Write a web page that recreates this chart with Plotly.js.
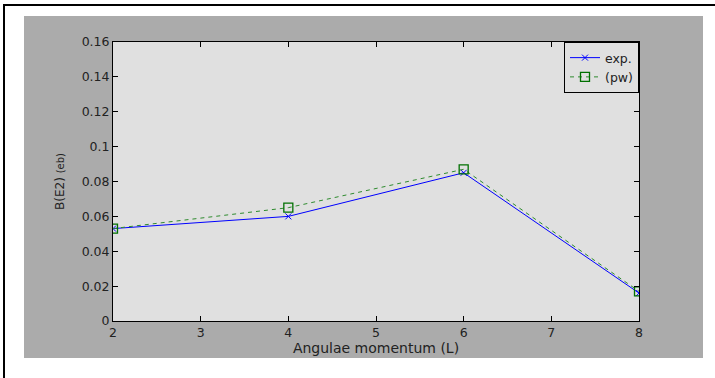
<!DOCTYPE html>
<html>
<head>
<meta charset="utf-8">
<script src="https://cdn.plot.ly/plotly-3.0.1.min.js"></script>
<style>html,body{margin:0;padding:0;background:#fff;}#chart{width:715px;height:378px;}</style>
</head>
<body>
<div id="chart"></div>
<script>
const angularMomentum = [2, 4, 6, 8];
const expValues = [0.053, 0.060, 0.085, 0.016];
const pwValues = [0.053, 0.065, 0.087, 0.017];
const xTicks = [2, 3, 4, 5, 6, 7, 8];
const yTickVals = [0, 0.02, 0.04, 0.06, 0.08, 0.1, 0.12, 0.14, 0.16];
const yTickText = ['0', '0.02', '0.04', '0.06', '0.08', '0.1', '0.12', '0.14', '0.16'];
const seriesNames = ['exp.', '(pw)'];

const W = 715, H = 378;
const L = 113, R = 639, T = 42, B = 321;
const pw = R - L, ph = B - T;
const px = v => (v - L) / pw;
const py = v => (B - v) / ph;
const FONT = 'DejaVu Sans, Liberation Sans, Arial, sans-serif';

const traces = [
  {
    x: angularMomentum, y: expValues, name: seriesNames[0],
    mode: 'lines+markers', type: 'scatter',
    line: {color: '#0000ff', width: 1},
    marker: {symbol: 'x-thin-open', size: 6, color: '#0000ff', line: {color: '#0000ff', width: 1}}
  },
  {
    x: angularMomentum, y: pwValues, name: seriesNames[1],
    mode: 'lines+markers', type: 'scatter',
    line: {color: '#2e8b2e', width: 1, dash: '4px,4px'},
    marker: {symbol: 'square-open', size: 9, color: '#007000', line: {color: '#007000', width: 1.3}}
  }
];

const axisCommon = {
  showline: true, linecolor: '#000', linewidth: 1, mirror: 'ticks',
  ticks: 'inside', ticklen: 5, tickcolor: '#000', tickwidth: 1,
  showgrid: false, zeroline: false,
  tickfont: {family: FONT, size: 12.5, color: '#222'}
};

const layout = {
  width: W, height: H,
  margin: {l: L, r: W - R, t: T, b: H - B, pad: 0},
  paper_bgcolor: '#ffffff',
  plot_bgcolor: '#e0e0e0',
  showlegend: true,
  legend: {
    x: 1, xanchor: 'right', y: 1, yanchor: 'top',
    bgcolor: '#e0e0e0', bordercolor: '#000', borderwidth: 1,
    font: {family: FONT, size: 12.5, color: '#222'},
    tracegroupgap: 0, itemwidth: 30, entrywidth: 88
  },
  xaxis: Object.assign({}, axisCommon, {
    range: [2, 8], tickvals: xTicks, ticktext: xTicks.map(String),
    title: {text: 'Angulae momentum (L)', standoff: 2,
      font: {family: FONT, size: 14, color: '#222'}}
  }),
  yaxis: Object.assign({}, axisCommon, {
    range: [0, 0.16], tickvals: yTickVals, ticktext: yTickText,
    title: {text: 'B(E2) <span style="font-size:10px">(eb)</span>', standoff: 14,
      font: {family: FONT, size: 12, color: '#222'}}
  }),
  shapes: [
    {type: 'rect', xref: 'paper', yref: 'paper', layer: 'below',
     x0: px(24), x1: px(703), y0: py(358), y1: py(16),
     fillcolor: '#ababab', line: {width: 0}},
    {type: 'rect', xref: 'paper', yref: 'paper', layer: 'below',
     x0: 0, x1: 1, y0: 0, y1: 1,
     fillcolor: '#e0e0e0', line: {width: 0}},
    {type: 'line', xref: 'paper', yref: 'paper',
     x0: px(4), x1: px(716), y0: py(5), y1: py(5),
     line: {color: '#000', width: 2}},
    {type: 'line', xref: 'paper', yref: 'paper',
     x0: px(4), x1: px(4), y0: py(4), y1: py(380),
     line: {color: '#000', width: 2}}
  ]
};

Plotly.newPlot('chart', traces, layout, {displayModeBar: false, staticPlot: true});
</script>
</body>
</html>
